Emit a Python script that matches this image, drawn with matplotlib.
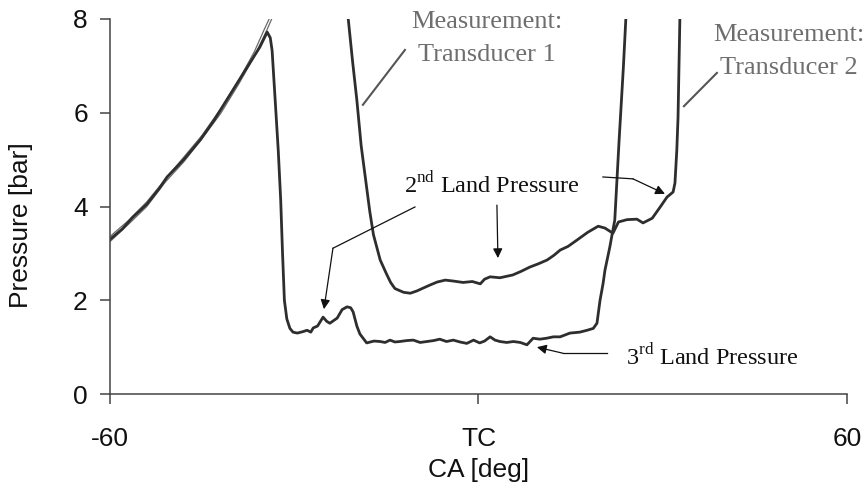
import numpy as np
import matplotlib
matplotlib.use("Agg")
import matplotlib.pyplot as plt

plt.rcParams['font.family'] = ['Liberation Sans', 'DejaVu Sans']
plt.rcParams['mathtext.fontset'] = 'custom'
plt.rcParams['mathtext.rm'] = 'Liberation Serif'

# --- data (CA in deg, pressure in bar) ---
# rising cylinder pressure, shared start
rise_ca = [-60, -58, -56.3, -54, -52, -50.7, -48, -45.3, -43, -40, -38, -35.6]
rise_p = [3.30, 3.52, 3.77, 4.05, 4.38, 4.63, 5.00, 5.42, 5.85, 6.48, 6.90, 7.40]

# thin cylinder pressure traces that leave the top of the plot
thin1_ca = [-60, -57, -54, -51, -48, -45, -42, -39, -36.5, -34.5, -33.5, -32.8]
thin1_p = [3.25, 3.62, 4.00, 4.52, 4.95, 5.45, 5.98, 6.62, 7.20, 7.75, 8.05, 8.40]
thin2_ca = [-60, -57, -54, -51, -48, -45, -42, -39, -36.5, -34.8, -33.9, -33.2]
thin2_p = [3.36, 3.70, 4.10, 4.58, 5.05, 5.52, 6.08, 6.70, 7.30, 7.80, 8.05, 8.40]

# transducer 2: peak, drop, 2nd/3rd land pressure, then rise again
t2_ca = [-34.4, -33.9, -33.6, -33.1, -32.6, -32.2, -31.9, -31.6, -31.2, -30.7,
         -30.2, -29.5, -28.6, -27.9, -27.3, -26.9, -26.2, -25.3, -24.7, -24.2,
         -23.0, -22.2, -21.4, -20.8, -20.4, -19.8, -19.3, -18.2, -17.0, -16.0,
         -15.2, -14.4, -13.6, -12.8, -11.7, -10.6, -9.5, -8.4, -7.3, -6.3,
         -5.2, -4.1, -3.0, -1.9, -0.8, 0.2, 1.0, 1.9, 2.7, 3.5,
         4.6, 5.7, 6.8, 7.9, 8.9, 10.0, 11.1, 12.2, 13.3, 14.9,
         16.5, 17.7, 18.7, 19.3, 19.8, 20.3, 20.6, 21.4, 21.8, 22.2,
         22.9, 23.6, 24.0, 24.3]
t2_p = [7.72, 7.60, 7.33, 6.27, 5.20, 4.14, 3.00, 2.00, 1.60, 1.40,
        1.32, 1.30, 1.33, 1.36, 1.32, 1.41, 1.45, 1.64, 1.55, 1.51,
        1.62, 1.80, 1.86, 1.84, 1.75, 1.45, 1.28, 1.09, 1.13, 1.12,
        1.10, 1.15, 1.11, 1.12, 1.14, 1.15, 1.10, 1.12, 1.14, 1.17,
        1.12, 1.15, 1.11, 1.08, 1.15, 1.09, 1.13, 1.22, 1.15, 1.12,
        1.10, 1.12, 1.10, 1.05, 1.19, 1.17, 1.19, 1.22, 1.22, 1.30,
        1.32, 1.36, 1.40, 1.51, 2.00, 2.36, 2.64, 3.14, 3.43, 3.71,
        5.40, 6.97, 8.00, 9.00]

# transducer 1: coming down from cylinder pressure into 2nd land pressure
t1_ca = [-22.0, -21.2, -20.5, -19.8, -19.1, -18.4, -17.7, -17.1, -16.0, -15.0,
         -14.3, -13.6, -12.2, -11.1, -10.0, -9.0, -7.8, -6.7, -5.4, -4.1,
         -2.5, -1.0, 0.3, 1.0, 1.9, 3.5, 5.6, 7.0, 8.4, 9.8,
         11.2, 12.3, 13.3, 14.6, 16.0, 17.8, 19.5, 20.6, 21.9, 22.8,
         24.2, 25.8, 26.8, 28.3, 29.6, 30.7, 31.7, 32.0, 32.3, 32.5,
         32.8, 33.0]
t1_p = [9.50, 8.00, 7.10, 6.27, 5.30, 4.60, 3.90, 3.40, 2.86, 2.57,
        2.38, 2.25, 2.17, 2.15, 2.20, 2.26, 2.33, 2.39, 2.43, 2.41,
        2.38, 2.40, 2.35, 2.45, 2.50, 2.48, 2.54, 2.62, 2.71, 2.78,
        2.86, 2.96, 3.07, 3.15, 3.28, 3.45, 3.58, 3.54, 3.43, 3.67,
        3.72, 3.73, 3.65, 3.75, 3.99, 4.20, 4.31, 4.50, 5.20, 5.90,
        8.00, 9.50]

xticks = [-60, 0, 60]
xticklabels = ['-60', 'TC', '60']
yticks = [0, 2, 4, 6, 8]

fig = plt.figure(figsize=(8.68, 4.96), dpi=100)
ax = fig.add_axes([0.1267, 0.2056, 0.849, 0.7561])

dark = '#2e2e2e'
ax.plot(thin1_ca, thin1_p, color='#6a6a6a', lw=0.9)
ax.plot(thin2_ca, thin2_p, color='#6a6a6a', lw=0.9)
ax.plot(rise_ca + t2_ca, rise_p + t2_p, color=dark, lw=2.0)
ax.plot(t1_ca, t1_p, color=dark, lw=2.0)

ax.set_xlim(-60, 60)
ax.set_ylim(0, 8)
ax.set_xticks(xticks)
ax.set_xticklabels(xticklabels)
ax.set_yticks(yticks)
for s in ['top', 'right']:
    ax.spines[s].set_visible(False)
for s in ['left', 'bottom']:
    ax.spines[s].set_color('#444444')
    ax.spines[s].set_linewidth(1.1)
ax.tick_params(axis='both', direction='out', length=7, width=1.1,
               color='#444444', labelsize=19, labelcolor='#111111')
ax.tick_params(axis='x', pad=17)
ax.tick_params(axis='y', pad=9)

ax.set_xlabel('CA [deg]', fontsize=19, color='#111111')
ax.set_ylabel('Pressure [bar]', fontsize=19, color='#111111')
ax.xaxis.set_label_coords(0.5, -0.17)
ax.yaxis.set_label_coords(-0.105, 0.45)

# annotations
serif = ['Liberation Serif', 'DejaVu Serif']
gray_txt = '#6e6e6e'
ax.text(1.4, 7.94, 'Measurement:', family=serif, fontsize=19, color=gray_txt,
        ha='center', va='center')
ax.text(1.4, 7.23, 'Transducer 1', family=serif, fontsize=19, color=gray_txt,
        ha='center', va='center')
ax.text(50.6, 7.66, 'Measurement:', family=serif, fontsize=19, color=gray_txt,
        ha='center', va='center', clip_on=False)
ax.text(50.6, 6.95, 'Transducer 2', family=serif, fontsize=19, color=gray_txt,
        ha='center', va='center', clip_on=False)
ax.plot([-11.97, -18.81], [7.34, 6.17], color='#555555', lw=1.5)
ax.plot([38.83, 33.46], [6.85, 6.14], color='#555555', lw=1.5)

ax.text(2.2, 4.46, r'2$^{\mathrm{nd}}$ Land Pressure', family=serif,
        fontsize=17.5, color='#111111', ha='center', va='center')
ax.text(38.0, 0.79, r'3$^{\mathrm{rd}}$ Land Pressure', family=serif,
        fontsize=17.5, color='#111111', ha='center', va='center')

arrow_kw = dict(arrowstyle='-|>', color='#111111', lw=0.9,
                mutation_scale=14, shrinkA=0, shrinkB=0)
# 2nd land: bent arrow to left bump
ax.plot([-10.34, -23.69], [3.99, 3.11], color='#111111', lw=0.9)
ax.annotate('', xy=(-25.16, 1.81), xytext=(-23.69, 3.11), arrowprops=arrow_kw)
# 2nd land: straight down
ax.annotate('', xy=(3.17, 2.90), xytext=(3.01, 4.03), arrowprops=arrow_kw)
# 2nd land: right
ax.plot([20.27, 25.16], [4.63, 4.59], color='#111111', lw=0.9)
ax.annotate('', xy=(30.37, 4.27), xytext=(25.16, 4.59), arrowprops=arrow_kw)
# 3rd land
ax.plot([20.92, 13.76], [0.87, 0.87], color='#111111', lw=0.9)
ax.annotate('', xy=(9.52, 1.00), xytext=(13.76, 0.87), arrowprops=arrow_kw)

plt.savefig('out.png', dpi=100)
